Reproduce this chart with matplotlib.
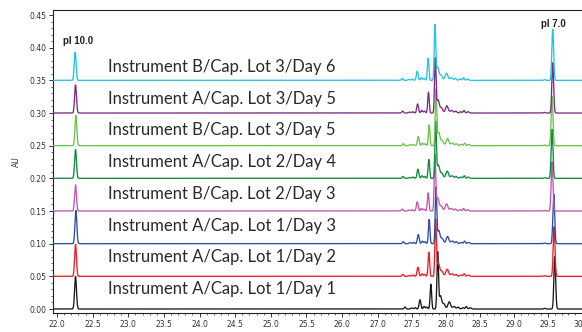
import numpy as np
import matplotlib
matplotlib.use("Agg")
import matplotlib.pyplot as plt
import matplotlib.transforms as mtransforms
from matplotlib.ticker import FixedLocator, FuncFormatter

# ---------------- data ----------------
labels = [
    "Instrument A/Cap. Lot 1/Day 1",
    "Instrument A/Cap. Lot 1/Day 2",
    "Instrument A/Cap. Lot 1/Day 3",
    "Instrument B/Cap. Lot 2/Day 3",
    "Instrument A/Cap. Lot 2/Day 4",
    "Instrument B/Cap. Lot 3/Day 5",
    "Instrument A/Cap. Lot 3/Day 5",
    "Instrument B/Cap. Lot 3/Day 6",
]
colors = ["#1a1a1a", "#ee1c24", "#2e4ea6", "#c455ad",
          "#0f8a3c", "#6cc24a", "#7c2a86", "#22c3e3"]
offsets = [0.00, 0.05, 0.10, 0.15, 0.20, 0.25, 0.30, 0.35]

# pI 10.0 marker peak
pi10_time = [22.26, 22.26, 22.265, 22.26, 22.26, 22.265, 22.26, 22.255]
pi10_height = [0.050, 0.049, 0.051, 0.040, 0.044, 0.046, 0.043, 0.043]
# pI 7.0 marker peak
pi7_time = [29.60, 29.59, 29.585, 29.56, 29.56, 29.56, 29.57, 29.57]
pi7_height = [0.080, 0.076, 0.076, 0.075, 0.075, 0.076, 0.077, 0.078]
# main protein cluster: per-trace shift and the two dominant peaks
cluster_shift = [0.00, -0.03, -0.025, -0.04, -0.03, -0.025, -0.035, -0.04]
main_height = [0.086, 0.086, 0.085, 0.085, 0.086, 0.085, 0.083, 0.084]
second_height = [0.038, 0.037, 0.037, 0.028, 0.029, 0.032, 0.032, 0.034]
# minor peaks of the cluster (time, height) for the reference run
minor_times = [27.40, 27.50, 27.55, 27.62, 27.68, 27.72, 27.92, 27.97,
               28.05, 28.12, 28.18, 28.25, 28.30, 28.36, 29.45]
minor_heights = [0.003, 0.0015, 0.002, 0.014, 0.004, 0.003, 0.020, 0.008,
                 0.011, 0.004, 0.003, 0.002, 0.004, 0.002, 0.001]
minor_widths = [0.012, 0.015, 0.012, 0.013, 0.012, 0.012, 0.018, 0.02,
                0.02, 0.02, 0.015, 0.015, 0.012, 0.015, 0.012]
main_time = 27.88
second_time = 27.78

x_major = [22.0, 22.5, 23.0, 23.5, 24.0, 24.5, 25.0, 25.5, 26.0,
           27.0, 27.5, 28.0, 28.5, 29.0, 29.5, 30.0]
y_major = [0.00, 0.05, 0.10, 0.15, 0.20, 0.25, 0.30, 0.35, 0.40, 0.45]


# ---------------- helpers ----------------
def gauss(t, c, h, w):
    return h * np.exp(-0.5 * ((t - c) / w) ** 2)


K = 0.955  # the later part of the time axis is drawn slightly tighter


def fwd(x):
    x = np.asarray(x, dtype=float)
    return np.where(x <= 26, x,
                    np.where(x <= 27, 26 + (x - 26) * 0.5, 26.5 + (x - 27) * K))


def inv(y):
    y = np.asarray(y, dtype=float)
    return np.where(y <= 26, y,
                    np.where(y <= 26.5, 26 + (y - 26) * 2, 27 + (y - 26.5) / K))


t = np.linspace(21.9, 30.05, 9000)

fig = plt.figure(figsize=(5.82, 3.32), dpi=100)
ax = fig.add_axes([53 / 582, 19 / 332, 529 / 582, 303 / 332])
ax.set_xscale("function", functions=(fwd, inv))
lab_tr = mtransforms.blended_transform_factory(ax.transAxes, ax.transData)

for i in range(len(labels)):
    s = cluster_shift[i]
    y = np.full_like(t, offsets[i])
    y += gauss(t, pi10_time[i], pi10_height[i], 0.013)
    y += gauss(t, pi7_time[i], pi7_height[i], 0.013)
    y += gauss(t, main_time + s, main_height[i], 0.011)
    y += gauss(t, second_time + s, second_height[i], 0.011)
    for c, h, w in zip(minor_times, minor_heights, minor_widths):
        y += gauss(t, c + (s if c < 29 else 0), h, w)
    ax.plot(t, y, color=colors[i], lw=0.95, zorder=2 + i)
    ax.text(0.1038, 0.0306 + i * 0.0486, labels[i], transform=lab_tr,
            fontsize=12.0, family="Lato", color="#2a2a2a", va="center", ha="left", zorder=20)

ax.text(22.29, 0.410, "pI 10.0", fontsize=7, fontweight="bold",
        family=["Liberation Sans Narrow", "Liberation Sans"], ha="center", va="center", color="#231f20")
ax.text(29.58, 0.437, "pI 7.0", fontsize=7, fontweight="bold",
        family=["Liberation Sans Narrow", "Liberation Sans"], ha="center", va="center", color="#231f20")

ax.set_xlim(21.944, 30.0)
ax.set_ylim(-0.0061, 0.4577)

ax.xaxis.set_major_locator(FixedLocator(x_major))
ax.xaxis.set_major_formatter(FuncFormatter(lambda v, p: "%.1f" % v))
minor_x = [round(v, 1) for v in np.arange(22.0, 30.01, 0.1) if not (26.0 < v < 27.0)]
minor_x += [26.2, 26.4, 26.6, 26.8]
ax.xaxis.set_minor_locator(FixedLocator(minor_x))
ax.yaxis.set_major_locator(FixedLocator(y_major))
ax.yaxis.set_major_formatter(FuncFormatter(lambda v, p: "%.2f" % v))
ax.yaxis.set_minor_locator(FixedLocator(np.arange(0, 0.46, 0.01)))

ax.tick_params(which="major", direction="out", length=3, width=0.7, labelsize=5.5,
               colors="#333333", pad=2)
ax.tick_params(which="minor", direction="out", length=1.6, width=0.5, colors="#333333")
for sp in ["left", "bottom", "top"]:
    ax.spines[sp].set_linewidth(0.8)
    ax.spines[sp].set_color("#222222")
ax.spines["right"].set_visible(False)

ax.set_ylabel("AU", fontsize=5.5, color="#333333", labelpad=6)
ax.set_xlabel("Minutes", fontsize=5.5, color="#333333", labelpad=3, fontweight="bold")

fig.savefig("out.png", dpi=100)
